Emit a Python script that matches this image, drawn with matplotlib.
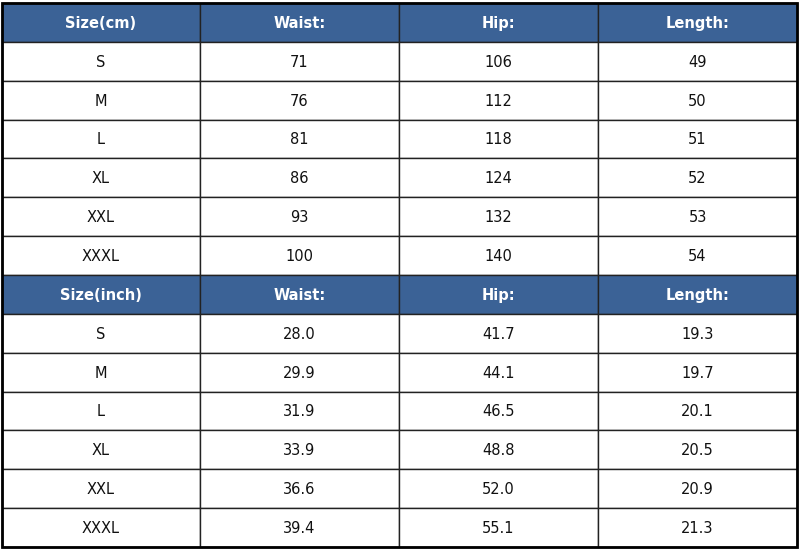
import matplotlib.pyplot as plt
from matplotlib.patches import Rectangle

header_cm = ['Size(cm)', 'Waist:', 'Hip:', 'Length:']
header_inch = ['Size(inch)', 'Waist:', 'Hip:', 'Length:']
sizes = ['S', 'M', 'L', 'XL', 'XXL', 'XXXL']
waist_cm = ['71', '76', '81', '86', '93', '100']
hip_cm = ['106', '112', '118', '124', '132', '140']
length_cm = ['49', '50', '51', '52', '53', '54']
waist_in = ['28.0', '29.9', '31.9', '33.9', '36.6', '39.4']
hip_in = ['41.7', '44.1', '46.5', '48.8', '52.0', '55.1']
length_in = ['19.3', '19.7', '20.1', '20.5', '20.9', '21.3']

W, H = 800, 553
fig = plt.figure(figsize=(8, 5.53), dpi=100)
ax = fig.add_axes([0, 0, 1, 1])
ax.set_xlim(0, W)
ax.set_ylim(H, 0)
ax.axis('off')

cols = [2, 200, 399, 598, 797]
top, bottom = 3, 547
rh = (bottom - top) / 14
blue = '#3b6296'

rows = [(header_cm, True)]
rows += [([s, a, b, c], False) for s, a, b, c in zip(sizes, waist_cm, hip_cm, length_cm)]
rows += [(header_inch, True)]
rows += [([s, a, b, c], False) for s, a, b, c in zip(sizes, waist_in, hip_in, length_in)]

for i, (vals, is_head) in enumerate(rows):
    y0 = top + i * rh
    for j, v in enumerate(vals):
        x0, x1 = cols[j], cols[j + 1]
        ax.add_patch(Rectangle((x0, y0), x1 - x0, rh,
                               facecolor=blue if is_head else 'white',
                               edgecolor='#222222', linewidth=1.0))
        ax.text((x0 + x1) / 2, y0 + rh / 2 + 1, v, ha='center', va='center',
                fontsize=10.5, family='DejaVu Sans',
                color='white' if is_head else '#111111',
                fontweight='bold' if is_head else 'normal')

ax.add_patch(Rectangle((cols[0], top), cols[-1] - cols[0], bottom - top,
                       fill=False, edgecolor='black', linewidth=2))

fig.savefig('out.png', dpi=100)
